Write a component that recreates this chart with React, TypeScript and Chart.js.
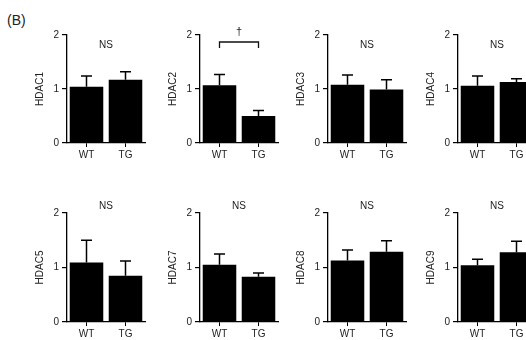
import React, { useEffect, useRef } from 'react';
import { Chart, registerables } from 'chart.js';

Chart.register(...registerables);

// ---- data ----
const groups = ['WT', 'TG'];
const genes = ['HDAC1', 'HDAC2', 'HDAC3', 'HDAC4', 'HDAC5', 'HDAC7', 'HDAC8', 'HDAC9'];
const wtMeans = [1.04, 1.07, 1.08, 1.06, 1.09, 1.05, 1.13, 1.04];
const tgMeans = [1.17, 0.5, 0.99, 1.13, 0.85, 0.83, 1.29, 1.28];
const wtErrors = [0.2, 0.2, 0.18, 0.18, 0.41, 0.2, 0.19, 0.11];
const tgErrors = [0.15, 0.1, 0.18, 0.06, 0.27, 0.07, 0.2, 0.2];
const significance = ['NS', '†', 'NS', 'NS', 'NS', 'NS', 'NS', 'NS'];
const yTicks = [0, 1, 2];
const panelLabel = '(B)';

// ---- layout / style ----
const FONT = '"Liberation Sans", Arial, Helvetica, sans-serif';
const TEXT = '#222';
const AXIS_X = [67, 200, 328, 458];
const ROWS = [
  { top: 0, areaTop: 35, areaBottom: 143, noteOffset: 10 },
  { top: 170, areaTop: 213, areaBottom: 322, noteOffset: -7 },
];
const CANVAS_W = 140;
const CANVAS_H = 170;
const YAXIS_W = 60;

function Panel({ index }: { index: number }) {
  const ref = useRef<HTMLCanvasElement>(null);
  const row = ROWS[Math.floor(index / 4)];
  const left = AXIS_X[index % 4] - YAXIS_W;

  useEffect(() => {
    if (!ref.current) return;
    const errs = [wtErrors[index], tgErrors[index]];
    const errorBars = {
      id: 'errorBars',
      afterDatasetsDraw(chart: any) {
        const ctx = chart.ctx;
        const meta = chart.getDatasetMeta(0);
        const y = chart.scales.y;
        ctx.save();
        ctx.strokeStyle = '#000';
        ctx.lineWidth = 1.5;
        meta.data.forEach((bar: any, i: number) => {
          const v = chart.data.datasets[0].data[i] as number;
          const top = y.getPixelForValue(v + errs[i]);
          const base = y.getPixelForValue(v);
          ctx.beginPath();
          ctx.moveTo(bar.x, base);
          ctx.lineTo(bar.x, top);
          ctx.moveTo(bar.x - 5.5, top);
          ctx.lineTo(bar.x + 5.5, top);
          ctx.stroke();
        });
        ctx.restore();
      },
    };
    const annotation = {
      id: 'annotation',
      afterDraw(chart: any) {
        const { ctx, chartArea } = chart;
        const meta = chart.getDatasetMeta(0);
        const label = significance[index];
        ctx.save();
        ctx.fillStyle = TEXT;
        ctx.textAlign = 'center';
        ctx.textBaseline = 'middle';
        ctx.font = `10px ${FONT}`;
        if (label === 'NS') {
          ctx.fillText(label, (chartArea.left + chartArea.right) / 2, chartArea.top + row.noteOffset);
        } else {
          const x0 = meta.data[0].x;
          const x1 = meta.data[1].x;
          const yb = chartArea.top + 7;
          ctx.strokeStyle = '#111';
          ctx.lineWidth = 1.3;
          ctx.beginPath();
          ctx.moveTo(x0, yb + 6);
          ctx.lineTo(x0, yb);
          ctx.lineTo(x1, yb);
          ctx.lineTo(x1, yb + 6);
          ctx.stroke();
          ctx.font = `11px ${FONT}`;
          ctx.fillText(label, (x0 + x1) / 2, chartArea.top - 3);
        }
        ctx.restore();
      },
    };

    const chart = new Chart(ref.current, {
      type: 'bar',
      data: {
        labels: groups,
        datasets: [
          {
            data: [wtMeans[index], tgMeans[index]],
            backgroundColor: '#000',
            borderWidth: 0,
            barPercentage: 0.86,
            categoryPercentage: 1,
          },
        ],
      },
      options: {
        animation: false,
        responsive: false,
        maintainAspectRatio: false,
        layout: { padding: { top: row.areaTop - row.top, right: 2, left: 0, bottom: 0 } },
        plugins: { legend: { display: false }, tooltip: { enabled: false }, title: { display: false } },
        scales: {
          x: {
            type: 'category',
            grid: { display: true, drawOnChartArea: false, drawTicks: true, tickLength: 4, offset: false, color: '#000' },
            border: { display: true, color: '#000', width: 1.3 },
            ticks: { color: TEXT, font: { family: FONT, size: 10 }, padding: 2 },
            afterFit: (s: any) => {
              s.height = CANVAS_H - (row.areaBottom - row.top);
            },
          },
          y: {
            min: 0,
            max: 2,
            afterBuildTicks: (s: any) => {
              s.ticks = yTicks.map((v) => ({ value: v }));
            },
            grid: { display: true, drawOnChartArea: false, drawTicks: true, tickLength: 5, color: '#000', lineWidth: 1.2 },
            border: { display: true, color: '#000', width: 1.3 },
            ticks: { color: TEXT, font: { family: FONT, size: 10 }, padding: 3 },
            title: {
              display: true,
              text: genes[index],
              color: TEXT,
              font: { family: FONT, size: 10 },
              padding: { top: 27, bottom: 0 },
            },
            afterFit: (s: any) => {
              s.width = YAXIS_W;
            },
          },
        },
      },
      plugins: [errorBars, annotation],
    } as any);
    return () => chart.destroy();
  }, [index]);

  return (
    <canvas
      ref={ref}
      width={CANVAS_W}
      height={CANVAS_H}
      style={{ position: 'absolute', left, top: row.top, width: CANVAS_W, height: CANVAS_H }}
    />
  );
}

export default function App() {
  return (
    <div
      style={{
        position: 'fixed',
        left: 0,
        top: 0,
        width: 526,
        height: 340,
        overflow: 'hidden',
        background: '#fff',
      }}
    >
      <div
        style={{
          position: 'absolute',
          left: 7,
          top: 12,
          fontFamily: FONT,
          fontSize: 14,
          color: TEXT,
          lineHeight: '16px',
        }}
      >
        {panelLabel}
      </div>
      {genes.map((g, i) => (
        <Panel key={g} index={i} />
      ))}
    </div>
  );
}
